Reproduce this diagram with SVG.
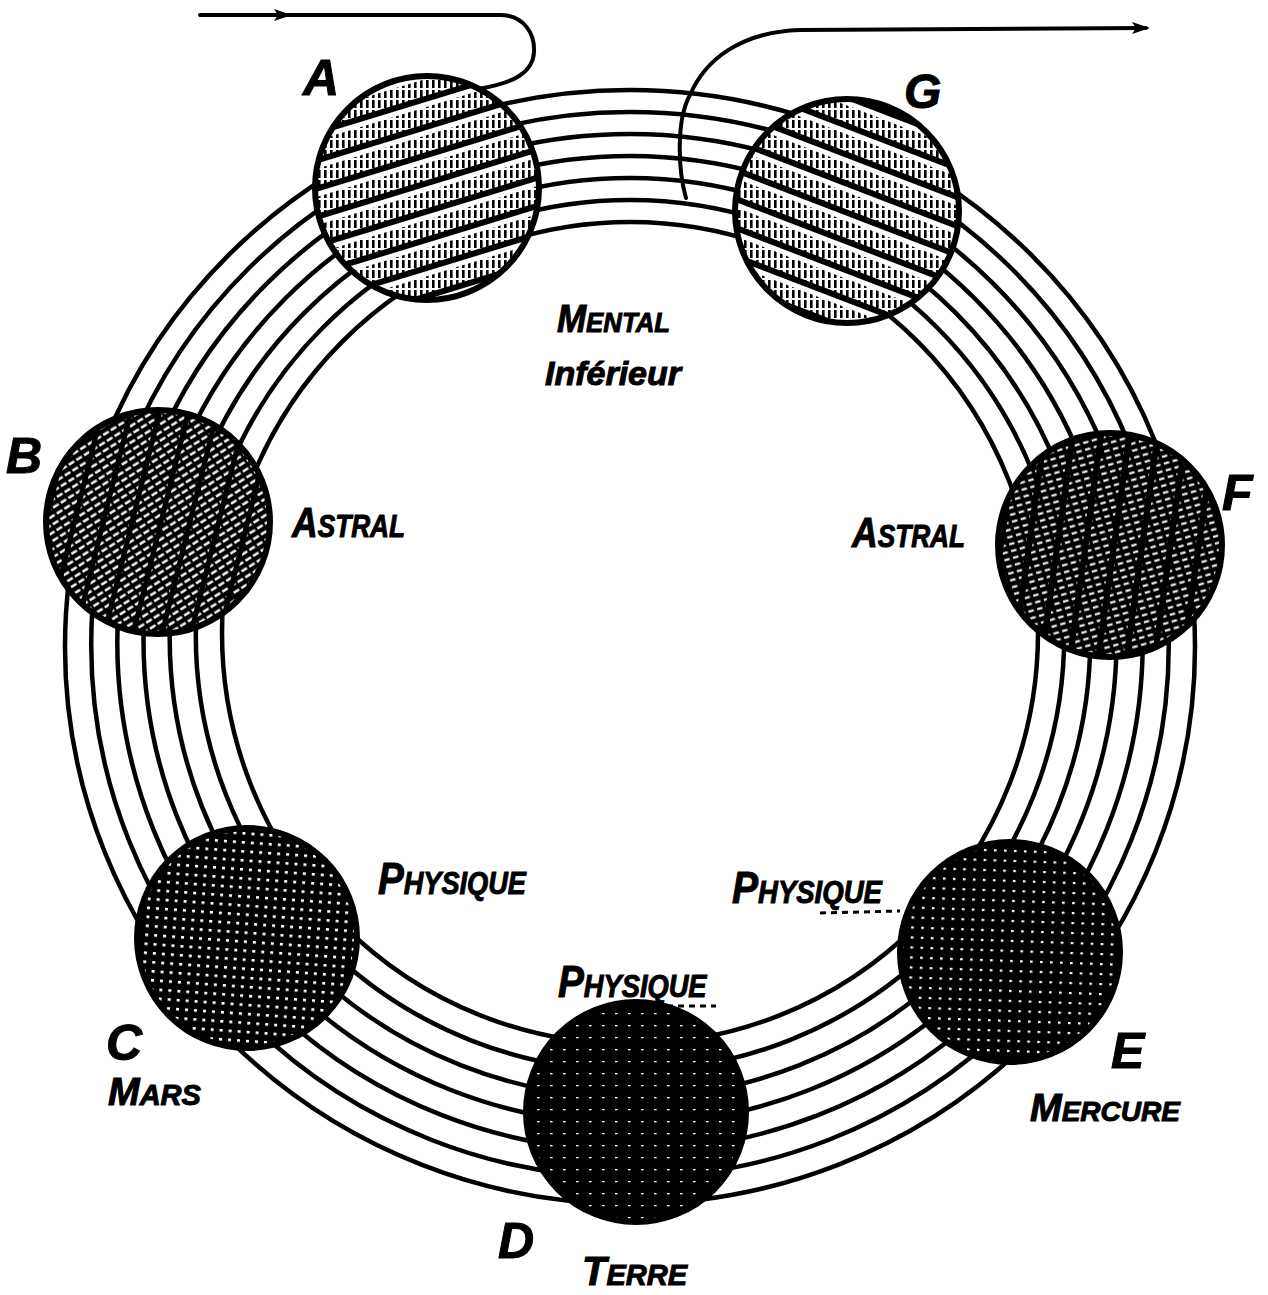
<svg xmlns="http://www.w3.org/2000/svg" width="1268" height="1295" viewBox="0 0 1268 1295">
<style>
.ring{fill:none;stroke:#000;stroke-width:4.5}
.edge{fill:none;stroke:#000;stroke-width:6}
.base{fill:#fff}
.lbl{font-family:"Liberation Sans",Arial,sans-serif;font-weight:bold;font-style:italic;fill:#000;stroke:#000;stroke-width:1}
.conn{fill:none;stroke:#000;stroke-width:4;stroke-linecap:round}
.dash{fill:none;stroke:#000;stroke-width:3;stroke-dasharray:6 5}
</style>
<defs>
<pattern id="vhatch" patternUnits="userSpaceOnUse" width="6" height="10"><rect width="6" height="10" fill="#fff"/><rect x="0" y="0" width="2.6" height="8" fill="#000"/></pattern>
<pattern id="bandsA" patternUnits="userSpaceOnUse" width="40" height="27" patternTransform="rotate(-17)"><rect y="0" width="40" height="6" fill="#000"/><rect y="6" width="40" height="5" fill="#fff"/></pattern>
<pattern id="bandsG" patternUnits="userSpaceOnUse" width="40" height="27" patternTransform="rotate(21)"><rect y="0" width="40" height="6" fill="#000"/><rect y="6" width="40" height="5" fill="#fff"/></pattern>
<pattern id="dashB" patternUnits="userSpaceOnUse" width="9" height="7" patternTransform="rotate(-32)"><rect width="9" height="7" fill="#000"/><rect x="1" y="2.4" width="6.5" height="2.4" fill="#fff"/></pattern>
<pattern id="colB" patternUnits="userSpaceOnUse" width="28" height="40" patternTransform="rotate(14)"><rect x="0" width="5" height="40" fill="#000"/></pattern>
<pattern id="dashF" patternUnits="userSpaceOnUse" width="9" height="7" patternTransform="rotate(-16)"><rect width="9" height="7" fill="#000"/><rect x="1" y="2.5" width="5.5" height="2.1" fill="#fff"/></pattern>
<pattern id="colF" patternUnits="userSpaceOnUse" width="28" height="40" patternTransform="rotate(8)"><rect x="0" width="6" height="40" fill="#000"/></pattern>
<pattern id="dotC" patternUnits="userSpaceOnUse" width="9" height="9" patternTransform="rotate(4)"><rect width="9" height="9" fill="#000"/><rect x="3" y="3" width="3" height="2.6" fill="#fff"/></pattern>
<pattern id="dotE" patternUnits="userSpaceOnUse" width="10" height="10" patternTransform="rotate(2)"><rect width="10" height="10" fill="#000"/><rect x="3" y="4" width="2.6" height="2.2" fill="#fff"/></pattern>
<pattern id="dotD" patternUnits="userSpaceOnUse" width="13" height="12"><rect width="13" height="12" fill="#000"/><rect x="4" y="5" width="2.6" height="1.3" fill="#fff"/></pattern>
<marker id="arrow" viewBox="0 0 18 14" refX="14" refY="7" markerWidth="18" markerHeight="14" markerUnits="userSpaceOnUse" orient="auto"><path d="M0,1 L18,7 L0,13 L4,7 z" fill="#000"/></marker>
</defs>

<g id="ring">
<ellipse class="ring" cx="630" cy="647" rx="565" ry="557"/>
<ellipse class="ring" cx="630" cy="644.7" rx="538.8" ry="532.7"/>
<ellipse class="ring" cx="630" cy="642.3" rx="512.7" ry="508.3"/>
<ellipse class="ring" cx="630" cy="640" rx="486.5" ry="484"/>
<ellipse class="ring" cx="630" cy="637.7" rx="460.3" ry="459.7"/>
<ellipse class="ring" cx="630" cy="635.3" rx="434.2" ry="435.3"/>
<ellipse class="ring" cx="630" cy="633" rx="408" ry="411"/>
</g>

<g id="node-A">
<circle class="base" cx="427" cy="188" r="112"/>
<circle cx="427" cy="188" r="112" fill="url(#vhatch)"/>
<circle cx="427" cy="188" r="112" fill="url(#bandsA)"/>
<circle class="edge" cx="427" cy="188" r="112"/>
<text class="lbl" x="303" y="95" font-size="50">A</text>
</g>

<g id="node-G">
<circle class="base" cx="847" cy="211" r="112"/>
<circle cx="847" cy="211" r="112" fill="url(#vhatch)"/>
<circle cx="847" cy="211" r="112" fill="url(#bandsG)"/>
<circle class="edge" cx="847" cy="211" r="112"/>
<text class="lbl" x="904" y="108" font-size="48">G</text>
</g>

<g id="node-B">
<circle cx="158" cy="522" r="112" fill="url(#dashB)"/>
<circle cx="158" cy="522" r="112" fill="url(#colB)"/>
<circle class="edge" cx="158" cy="522" r="112"/>
<text class="lbl" x="6" y="473" font-size="50">B</text>
</g>

<g id="node-F">
<circle cx="1110" cy="545" r="112" fill="url(#dashF)"/>
<circle cx="1110" cy="545" r="112" fill="url(#colF)"/>
<circle class="edge" cx="1110" cy="545" r="112"/>
<text class="lbl" x="1222" y="510" font-size="50">F</text>
</g>

<g id="node-C">
<circle cx="247" cy="938" r="110" fill="url(#dotC)"/>
<circle class="edge" cx="247" cy="938" r="110"/>
<text class="lbl" x="106" y="1060" font-size="50">C</text>
<text class="lbl" x="108" y="1105"><tspan font-size="38">M</tspan><tspan font-size="29">ARS</tspan></text>
</g>

<g id="node-E">
<circle cx="1010" cy="952" r="110" fill="url(#dotE)"/>
<circle class="edge" cx="1010" cy="952" r="110"/>
<text class="lbl" x="1111" y="1068" font-size="50">E</text>
<text class="lbl" x="1030" y="1121"><tspan font-size="38">M</tspan><tspan font-size="28">ERCURE</tspan></text>
</g>

<g id="node-D">
<circle cx="636" cy="1112" r="110" fill="url(#dotD)"/>
<circle class="edge" cx="636" cy="1112" r="110"/>
<text class="lbl" x="498" y="1258" font-size="50">D</text>
<text class="lbl" x="582" y="1285"><tspan font-size="40">T</tspan><tspan font-size="29">ERRE</tspan></text>
</g>

<g id="connectors">
<path class="conn" d="M200,15 L288,15" marker-end="url(#arrow)"/>
<path class="conn" d="M286,15 L500,15 C525,15 535,35 534,52 C533,72 515,83 478,89"/>
<path class="conn" d="M686,198 C678,170 676,120 690,95 C705,60 740,32 800,30 L1146,28" marker-end="url(#arrow)"/>
</g>

<g id="plane-labels">
<text class="lbl" transform="translate(557,332) scale(0.92,1)"><tspan font-size="38">M</tspan><tspan font-size="28">ENTAL</tspan></text>
<text class="lbl" x="545" y="385" font-size="34">Inférieur</text>
<text class="lbl" transform="translate(292,537) scale(0.846,1)"><tspan font-size="42">A</tspan><tspan font-size="31">STRAL</tspan></text>
<text class="lbl" transform="translate(852,547) scale(0.846,1)"><tspan font-size="42">A</tspan><tspan font-size="31">STRAL</tspan></text>
<text class="lbl" transform="translate(378,894) scale(0.876,1)"><tspan font-size="44">P</tspan><tspan font-size="31">HYSIQUE</tspan></text>
<text class="lbl" transform="translate(732,903) scale(0.888,1)"><tspan font-size="44">P</tspan><tspan font-size="31">HYSIQUE</tspan></text>
<text class="lbl" transform="translate(558,997) scale(0.88,1)"><tspan font-size="44">P</tspan><tspan font-size="31">HYSIQUE</tspan></text>
<path class="dash" d="M820,913 L900,911"/>
<path class="dash" d="M612,1006 L716,1006"/>
</g>
</svg>
